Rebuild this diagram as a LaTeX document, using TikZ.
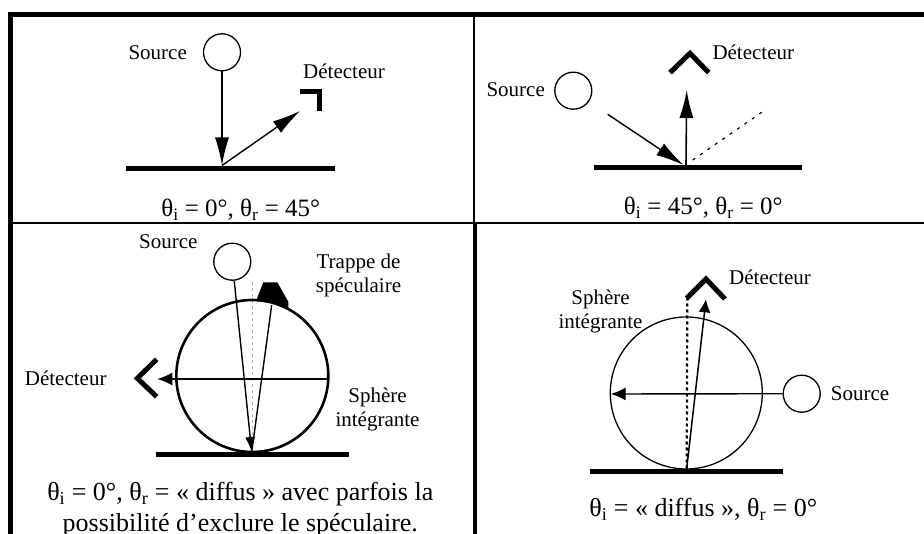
\documentclass[tikz,border=0pt]{standalone}
\usepackage{fontspec}
\setmainfont{Liberation Serif}
\usepackage{xcolor}
\usetikzlibrary{arrows.meta}
\newcommand{\thi}{θ\textsubscript{i}}
\newcommand{\thr}{θ\textsubscript{r}}
\tikzset{
	lab/.style={inner sep=0pt, anchor=base, font=\fontsize{21}{24}\selectfont, align=center},
	capt/.style={inner sep=0pt, anchor=base, font=\fontsize{25}{31}\selectfont, align=center},
	captb/.style={inner sep=0pt, anchor=base, font=\fontsize{26}{31}\selectfont, align=center},
	lamp/.style={circle, draw, line width=1.3pt, inner sep=0pt, minimum size=37pt},
	surf/.style={line width=5pt},
	detect/.style={line width=5pt, miter limit=10},
	ray/.style={line width=1.4pt},
	bighead/.style={-{Latex[length=28pt,width=14pt]}},
	smallhead/.style={-{Latex[length=15pt,width=13pt]}}
}

\begin{document}
\begin{tikzpicture}[x=1pt,y=-1pt]
	
	\useasboundingbox (0,0) rectangle (924,534);
	
	% frame
	\draw[line width=4.5pt] (10.5,534) -- (10.5,14.5) -- (924,14.5);
	\draw[line width=2.5pt] (474,17) -- (474,223);
	\draw[line width=4pt] (475,223) -- (475,534);
	\draw[line width=2pt] (13,222.8) -- (924,222.8);
	
	% top left
	\draw[surf] (126,168.3) -- (335,168.3);
	\node[lamp] (srcA) at (222,52.3) {};
	\coordinate (hitA) at (222,165.5);
	\coordinate (detA) at (300,111);
	\draw[ray,bighead] (srcA) -- (hitA);
	\draw[ray,bighead] (hitA) -- (detA);
	\draw[detect] (300,91.3) -- (319.5,91.3) -- (319.5,110.7);
	\node[lab] (srcAtxt) at (157.7,59.3) {Source};
	\node[lab] (detAtxt) at (344,79) {Détecteur};
	\node[capt] (capA) at (240.7,216.7) {\thi{} = 0°, \thr{} = 45°};
	
	% top right
	\draw[surf] (594.3,167.3) -- (802.3,167.3);
	\node[lamp] (srcB) at (573.3,90.7) {};
	\coordinate (startB) at (607.7,114.3);
	\coordinate (hitB) at (683.5,165);
	\coordinate (footB) at (686,165);
	\coordinate (topB) at (686.7,90);
	\coordinate (farB) at (765,110);
	\coordinate (nearB) at (692.7,160);
	\draw[ray,bighead] (startB) -- (hitB);
	\draw[line width=1.6pt,-{Latex[length=28pt,width=14pt]}] (footB) -- (topB);
	\draw[line width=1.2pt, dash pattern=on 3pt off 6pt] (nearB) -- (farB);
	\draw[detect] (670,72.7) -- (690,53.3) -- (708.7,72.7);
	\node[lab] (srcBtxt) at (515.7,97) {Source};
	\node[lab] (detBtxt) at (753.3,59.3) {Détecteur};
	\node[capt] (capB) at (703.3,215) {\thi{} = 45°, \thr{} = 0°};
	
	% bottom left
	\fill (256,301) -- (263.3,282.3) -- (277.3,282.3) -- (288.3,301.7) -- (288.3,310) -- (272,303) -- cycle;
	\draw[line width=0.5pt, gray!60, dashed] (252.3,282) -- (252.3,450);
	\node[circle, draw, line width=2.6pt, inner sep=0pt, minimum size=152pt] (sphC) at (252.3,376) {};
	\draw[surf] (156,454.3) -- (349,454.3);
	\node[lamp] (srcC) at (232.3,261.7) {};
	\coordinate (hitC) at (251.7,452);
	\coordinate (trapC) at (271.7,305);
	\coordinate (rightC) at (326.7,379);
	\coordinate (leftC) at (157.3,379);
	\draw[ray,-{Latex[length=15pt,width=10pt]}] (srcC) -- (hitC);
	\draw[ray] (hitC) -- (trapC);
	\draw[ray,smallhead] (rightC) -- (leftC);
	\draw[detect] (156.7,359.3) -- (137.3,378.3) -- (156.7,396.7);
	\node[lab] (srcCtxt) at (168.3,249) {Source};
	\node[lab] (trapCtxt) at (358.5,292.7) {Trappe de\\spéculaire};
	\node[lab] (detCtxt) at (65.7,385.3) {Détecteur};
	\node[lab] (sphCtxt) at (377.5,426.7) {Sphère\\intégrante};
	\node[captb] (capC) at (240.3,531.7) {\thi{} = 0°, \thr{} = « diffus » avec parfois la\\possibilité d’exclure le spéculaire.};
	
	% bottom right
	\node[circle, draw, line width=1.3pt, inner sep=0pt, minimum size=152pt] (sphD) at (686.3,393) {};
	\draw[surf] (590,471.5) -- (783.3,471.5);
	\node[lamp] (srcD) at (801.7,393.7) {};
	\coordinate (hitD) at (686.7,468.5);
	\coordinate (topD) at (706,299.3);
	\coordinate (dotD) at (687.3,298.3);
	\coordinate (leftD) at (610.7,394);
	\draw[ray,smallhead] (srcD) -- (leftD);
	\draw[line width=1.5pt,-{Latex[length=13pt,width=12pt]}] (hitD) -- (topD);
	\draw[line width=2.2pt, dash pattern=on 3pt off 3pt] (hitD) -- (dotD);
	\draw[detect] (686.7,298.3) -- (706,279) -- (725,299);
	\node[lab] (srcDtxt) at (860,400.7) {Source};
	\node[lab] (detDtxt) at (770,285) {Détecteur};
	\node[lab] (sphDtxt) at (600.5,329) {Sphère\\intégrante};
	\node[captb] (capD) at (703.3,516.7) {\thi{} = « diffus », \thr{} = 0°};
	
\end{tikzpicture}
\end{document}
